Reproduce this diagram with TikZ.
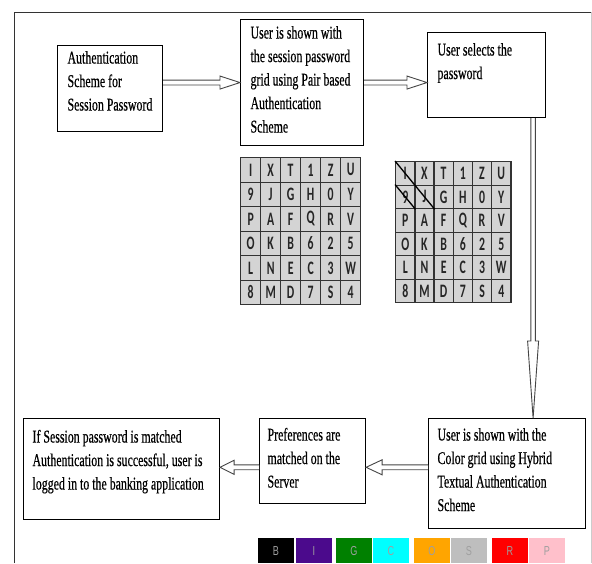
\documentclass[tikz,border=0pt]{standalone}
\usepackage{fontspec}
\setmainfont{Liberation Serif}[FakeStretch=0.66, FakeBold=0.5]
\newfontfamily\gridfont{Carlito}[FakeStretch=0.62]
\newfontfamily\barfont{Liberation Sans}[FakeStretch=0.7]
\usetikzlibrary{calc}
\definecolor{celllgray}{HTML}{D4D4D4}
\definecolor{cellline}{HTML}{333333}
\definecolor{arrline}{HTML}{454545}
\definecolor{cB}{HTML}{000000}
\definecolor{cI}{HTML}{4B0A8C}
\definecolor{cG}{HTML}{008000}
\definecolor{cC}{HTML}{00FFFF}
\definecolor{cO}{HTML}{FFA500}
\definecolor{cS}{HTML}{BEBEBE}
\definecolor{cR}{HTML}{FF0000}
\definecolor{cP}{HTML}{FFC0CB}
% #1 width, #2 height, #3 left pad, #4 first baseline offset, #5 text
\newcommand\btext[5]{\parbox[c][#2][t]{#1}{\raggedright\leftskip=#3\relax\rule{0pt}{#4}#5}}
% #1 start, #2 end, #3 head length, #4 head half width, #5 shaft half width
\newcommand\blockarrow[5]{%
  \coordinate (ahb) at ($(#2)!#3!(#1)$);
  \draw[blockarr] ($(#1)!#5!90:(#2)$) -- ($(ahb)!#5!-90:(#1)$) -- ($(ahb)!#4!-90:(#1)$) -- (#2)
     -- ($(ahb)!#4!90:(#1)$) -- ($(ahb)!#5!90:(#1)$) -- ($(#1)!#5!-90:(#2)$);
}
\tikzset{
  box/.style={draw=black, line width=1.1pt, inner sep=0pt, anchor=north west,
    font=\fontsize{18}{23.5}\selectfont},
  blockarr/.style={draw=arrline, line width=0.9pt, fill=white, line join=miter},
  cellbox/.style={draw=cellline, line width=1.3pt, fill=celllgray, inner sep=0pt,
    anchor=north west, font=\gridfont\bfseries\fontsize{19}{19}\selectfont, text=black!85},
  diag/.style={draw=black, line width=1.3pt},
  barcell/.style={inner sep=0pt, anchor=north west, minimum width=35.5pt, minimum height=25pt,
    font=\barfont\fontsize{13}{13}\selectfont, text=gray!75},
  frameline/.style={draw=black!80, line width=0.9pt}
}
\begin{document}
\begin{tikzpicture}[x=1pt, y=-1pt]
\useasboundingbox (0,0) rectangle (592,563);
% frame
\draw[frameline] (14,563) -- (14,12) -- (592,12);
\draw[gray!40, line width=0.6pt] (591,12) -- (591,563);
% boxes
\node[box] (b1) at (57,45) {\btext{105pt}{86pt}{10pt}{18pt}{Authentication\\Scheme for\\Session Password}};
\node[box] (b2) at (240,19) {\btext{123pt}{126pt}{10pt}{19pt}{User is shown with\\the session password\\grid using Pair based\\Authentication\\Scheme}};
\node[box] (b3) at (427,32) {\btext{118pt}{85pt}{10pt}{23pt}{User selects the\\password}};
\node[box] (bL) at (23,418) {\btext{196pt}{101pt}{9pt}{24pt}{If Session password is matched\\Authentication is successful, user is\\logged in to the banking application}};
\node[box] (bM) at (259,418) {\btext{106pt}{85pt}{8pt}{22pt}{Preferences are\\matched on the\\Server}};
\node[box] (bR) at (428,418) {\btext{157pt}{110pt}{9pt}{22pt}{User is shown with the\\Color grid using Hybrid\\Textual Authentication\\Scheme}};
% grids
\foreach \row [count=\r from 0] in {{I,X,T,1,Z,U},{9,J,G,H,0,Y},{P,A,F,Q,R,V},{O,K,B,6,2,5},{L,N,E,C,3,W},{8,M,D,7,S,4}} {
  \foreach \ch [count=\c from 0] in \row {
    \node[cellbox, minimum width=20pt, minimum height=24.5pt] (ga-\r-\c) at ({240+20*\c},{157+24.5*\r}) {\ch};
    \node[cellbox, minimum width=19.2pt, minimum height=23.5pt] (gb-\r-\c) at ({395+19.2*\c},{161+23.5*\r}) {\ch};
  }
}
\draw[diag] (gb-0-0.north west) -- (gb-1-1.south east);
\draw[diag] (gb-1-0.north west) -- (gb-1-0.south east);
% colour bar
\foreach \lab/\col/\x in {B/cB/258,I/cI/296,G/cG/336,C/cC/373,O/cO/414,S/cS/451,R/cR/492,P/cP/529} {
  \node[barcell, fill=\col] (bar\lab) at (\x,538) {\lab};
}
% arrows
\coordinate (a1s) at (b1.east |- b2.west);
\blockarrow{a1s}{b2.west}{20pt}{6.5pt}{2.4pt}
\coordinate (a2e) at (b3.west |- b2.east);
\blockarrow{b2.east}{a2e}{20pt}{6.5pt}{2.4pt}
\coordinate (d1) at ($(b3.south east)+(-13pt,0)$);
\coordinate (d2) at (d1 |- bR.north);
\blockarrow{d1}{d2}{77pt}{5.5pt}{2.3pt}
\coordinate (m1) at ($(bM.east)!0.5!(bR.west)$);
\coordinate (a4s) at (bR.west |- m1);
\coordinate (a4e) at (bM.east |- m1);
\blockarrow{a4s}{a4e}{16pt}{7.5pt}{2.4pt}
\coordinate (a5s) at (bM.west |- m1);
\coordinate (a5e) at (bL.east |- m1);
\blockarrow{a5s}{a5e}{14pt}{7pt}{2.4pt}
\end{tikzpicture}
\end{document}
